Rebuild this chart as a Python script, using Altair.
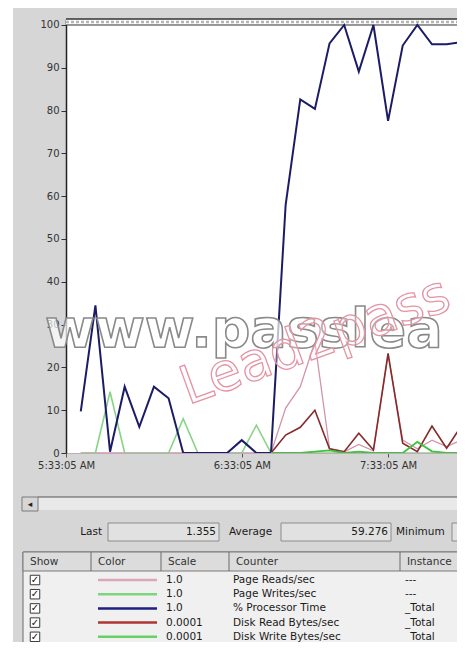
import altair as alt
import pandas as pd

# ---------------- data ----------------
samples = list(range(27))
page_reads = [0, 0, 0, 0, 0, 0, 0, 0, 0, 0, 0, 0, 0, 0, 10.5, 15.5, 26, 1, 0.3, 2, 0.5, 23, 3, 1, 3, 1.5, 3]
page_writes = [0, 0, 14.3, 0, 0, 0, 0, 8, 0, 0, 0, 0, 6.5, 0, 0, 0, 0, 0, 0, 0, 0, 0, 0, 0, 0, 0, 0]
proc_time = [9.7, 34.5, 0.3, 15.5, 6.1, 15.5, 12.8, 0, 0, 0, 0, 3.0, 0, 0,
             58, 82.6, 80.4, 95.7, 100, 89.1, 100, 77.6, 95.2, 100, 95.5, 95.5, 96]
disk_read = [None] * 13 + [0, 4.2, 6, 10, 1, 0.3, 4.6, 0.7, 23.3, 2.3, 0.3, 6.3, 1.1, 6.3]
disk_write = [None] * 13 + [0, 0, 0, 0.3, 0.6, 0, 0.3, 0, 0, 0, 2.6, 0.4, 0, 0]

counters = ["Page Reads/sec", "Page Writes/sec", "% Processor Time",
            "Disk Read Bytes/sec", "Disk Write Bytes/sec"]
scale_texts = ["1.0", "1.0", "1.0", "0.0001", "0.0001"]
instances = ["---", "---", "_Total", "_Total", "_Total"]
series_values = [page_reads, page_writes, proc_time, disk_read, disk_write]

y_ticks = list(range(0, 101, 10))
x_tick_samples = [-1, 11, 21]
x_tick_labels = ["5:33:05 AM", "6:33:05 AM", "7:33:05 AM"]
last_value = "1.355"
average_value = "59.276"
header_labels = ["Show", "Color", "Scale", "Counter", "Instance"]
watermark_1 = "www.passlea"
watermark_2 = "Lead2pass"

# ---------------- styles ----------------
line_colors = ["#d294aa", "#86d486", "#1c1c66", "#862a2a", "#3cc43c"]
swatch_colors = ["#dba6b8", "#7fd47f", "#1f1f80", "#b03434", "#66d266"]
line_widths = [1.3, 1.6, 2.0, 1.6, 1.8]
FONT = "DejaVu Sans"
BG = "#d6d6d6"

# ---------------- layout ----------------
W, H = 391, 434
PAD_L, PAD_T = 58, 11
TOTAL_H = 634
PAD_B = TOTAL_H - PAD_T - H
X0, Y0 = 8 + PAD_L, 8 + PAD_T          # page position of plot origin


def px(x):
    return x - X0


def py(y):
    return y - Y0


X_DOMAIN = [-1.01, 25.71]
Y_TOP = 101.4

one = pd.DataFrame({"_": [0]})

label_expr = "''"
for v, lab in reversed(list(zip(x_tick_samples, x_tick_labels))):
    label_expr = f"datum.value == {v} ? '{lab}' : ({label_expr})"

X = alt.X("i:Q", scale=alt.Scale(domain=X_DOMAIN, nice=False, zero=False),
          axis=alt.Axis(values=x_tick_samples, labelExpr=label_expr, title=None, grid=False,
                        tickSize=4, labelPadding=3, labelFlush=False, labelOverlap=False,
                        domainColor="#c4a8bc", tickColor="#555"))
Y = alt.Y("v:Q", scale=alt.Scale(domain=[0, Y_TOP], nice=False, zero=True),
          axis=alt.Axis(values=y_ticks, title=None, grid=False, tickSize=5, labelPadding=2,
                        domainColor="#222", domainWidth=1.5, tickColor="#333"))

layers = []

# hatched band on top of the plot
layers.append(alt.Chart(one).mark_rect(fill="white").encode(
    x=alt.value(0), x2=alt.value(W), y=alt.datum(100), y2=alt.datum(Y_TOP)))
layers.append(alt.Chart(one).mark_rule(color="#b4b4b4", strokeWidth=2.5, strokeDash=[3, 2]).encode(
    x=alt.value(0), x2=alt.value(W), y=alt.datum(100.7)))
layers.append(alt.Chart(one).mark_rule(color="#333", strokeWidth=1).encode(
    x=alt.value(0), x2=alt.value(W), y=alt.datum(100)))
layers.append(alt.Chart(one).mark_rule(color="#333", strokeWidth=1.5).encode(
    x=alt.value(0), x2=alt.value(W), y=alt.value(0)))

# data lines
for name, vals, c, w in zip(counters, series_values, line_colors, line_widths):
    df = pd.DataFrame({"i": samples, "v": vals}).dropna()
    layers.append(alt.Chart(df).mark_line(color=c, strokeWidth=w, clip=True).encode(x=X, y=Y))

# watermarks
layers.append(alt.Chart(one).mark_text(
    text=watermark_1, align="left", baseline="alphabetic", font=FONT, fontSize=54,
    fontWeight="bold", fill="white", fillOpacity=0.7, stroke="#8a8a8a", strokeWidth=1.6).encode(
    x=alt.value(px(45)), y=alt.value(py(347))))
layers.append(alt.Chart(one).mark_text(
    text=watermark_2, align="left", baseline="alphabetic", font=FONT, fontSize=53, angle=340,
    fill="white", fillOpacity=0.3, stroke="#e594a4", strokeWidth=1.3).encode(
    x=alt.value(px(188)), y=alt.value(py(405))))


# ---------------- window chrome ----------------
def box(x1, x2, y1, y2, fill, stroke=None, sw=1):
    kw = dict(fill=fill)
    if stroke:
        kw.update(stroke=stroke, strokeWidth=sw)
    return alt.Chart(one).mark_rect(**kw).encode(
        x=alt.value(px(x1)), x2=alt.value(px(x2)), y=alt.value(py(y1)), y2=alt.value(py(y2)))


def hline(x1, x2, y, color, sw=1):
    return alt.Chart(one).mark_rule(color=color, strokeWidth=sw).encode(
        x=alt.value(px(x1)), x2=alt.value(px(x2)), y=alt.value(py(y)))


def vline(x, y1, y2, color, sw=1):
    return alt.Chart(one).mark_rule(color=color, strokeWidth=sw).encode(
        x=alt.value(px(x)), y=alt.value(py(y1)), y2=alt.value(py(y2)))


def label(txt, x, y, align="left", size=10.5, color="#1a1a1a", **kw):
    return alt.Chart(one).mark_text(text=txt, align=align, baseline="middle", font=FONT,
                                    fontSize=size, color=color, **kw).encode(
        x=alt.value(px(x)), y=alt.value(py(y)))


# white strip at left edge
layers.append(box(8, 13, 8, 642, "white"))

# scrollbar
layers.append(box(38, 470, 497, 510, "#e9e9e9"))
layers.append(hline(38, 470, 497, "#555", 1.2))
layers.append(box(22, 38, 497, 511, BG, "#7a7a7a"))
layers.append(label("◂", 30, 504, align="center", size=9, color="#222"))

# Last / Average / Minimum
layers.append(label("Last", 102, 532, align="right"))
layers.append(box(108, 219, 523, 541, "#e1e1e1", "#8c8c8c"))
layers.append(label(last_value, 216, 532, align="right"))
layers.append(label("Average", 229, 532))
layers.append(box(281, 391, 523, 541, "#e1e1e1", "#8c8c8c"))
layers.append(label(average_value, 388, 532, align="right"))
layers.append(label("Minimum", 396, 532))
layers.append(box(452, 480, 523, 541, "#e1e1e1", "#8c8c8c"))

# counter table
col_lefts = [23, 91, 161, 229, 400]
layers.append(box(23, 480, 552, 645, "#f0f0f0", "#6a6a6a"))
layers.append(box(23, 480, 552, 571, "#dcdcdc", "#7a7a7a"))
for cx in col_lefts[1:]:
    layers.append(vline(cx, 552, 571, "#6a6a6a"))
for lab, cx in zip(header_labels, col_lefts):
    layers.append(label(lab, cx + 7, 562, color="#333"))

ROW0, ROW_STEP = py(580), 14.2
rows = pd.DataFrame({"counter": counters, "scale": scale_texts, "instance": instances,
                     "color": swatch_colors, "k": list(range(len(counters)))})
RY = alt.Y("ry:Q", scale=None, axis=None)
base = alt.Chart(rows).transform_calculate(ry=f"{ROW0} + {ROW_STEP} * datum.k")
layers.append(base.mark_point(shape="square", size=90, filled=True, fill="white", stroke="#3a3a3a",
                              strokeWidth=1, opacity=1).encode(x=alt.value(px(35)), y=RY))
layers.append(base.mark_text(text="✓", font=FONT, fontSize=10, fontWeight="bold", color="#111",
                             baseline="middle", align="center").encode(x=alt.value(px(35)), y=RY))
layers.append(base.mark_rule(strokeWidth=2.5).encode(
    x=alt.value(px(98)), x2=alt.value(px(157)), y=RY, color=alt.Color("color:N", scale=None)))
for field, cx in [("scale", 166), ("counter", 233), ("instance", 405)]:
    layers.append(base.mark_text(align="left", baseline="middle", font=FONT, fontSize=10.5,
                                 color="#1a1a1a").encode(
        x=alt.value(px(cx)), y=RY, text=f"{field}:N"))

chart = alt.layer(*layers).properties(
    width=W, height=H,
    padding={"left": PAD_L, "top": PAD_T, "right": 0, "bottom": PAD_B},
    autosize=alt.AutoSizeParams(type="none"),
    background=BG,
).configure_view(stroke=None, fill="white").configure_axis(
    labelFont=FONT, labelFontSize=10, labelColor="#333")

chart.save("out.html", embed_options={"renderer": "svg", "actions": False})
